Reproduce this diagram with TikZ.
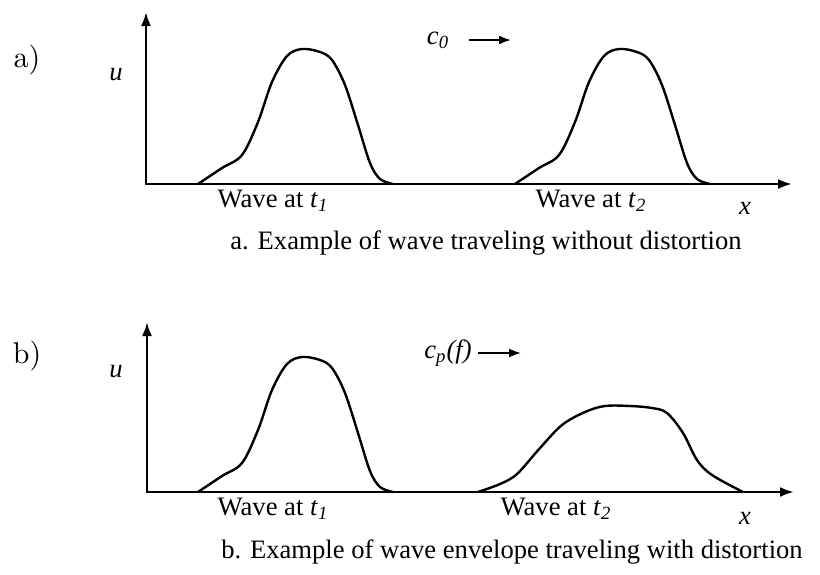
\documentclass[tikz,border=0pt]{standalone}
\usepackage{fontspec}
\setmainfont{Liberation Serif}
\newfontfamily\panelfont{lmroman10-regular.otf}
\usepackage{tikz}
\usetikzlibrary{arrows.meta, positioning}
\newcommand{\subit}[2]{\textit{#1}\textsubscript{\textit{#2}}}
\tikzset{
	axisline/.style={
			line width=1.2pt,
			{Latex[length=7pt,width=5pt]}-{Latex[length=7pt,width=5pt]}
		},
	waveline/.style={
			line width=1.2pt,
			line join=round
		},
	speedarrow/.style={
			line width=0.9pt,
			-{Latex[length=6pt,width=4.5pt]}
		},
	labeltext/.style={font=\fontsize{13.3}{16}\selectfont, inner sep=1pt},
	captiontext/.style={font=\fontsize{13.3}{16}\selectfont, inner sep=1pt},
	paneltext/.style={font=\panelfont\fontsize{15}{18}\selectfont, inner sep=1pt}
}
\begin{document}
\begin{tikzpicture}[x=0.5pt, y=-0.5pt]
	\useasboundingbox (0,0) rectangle (820,574);

	% panel a
	\node[paneltext] (pa) at (27,60) {a)};
	\node[labeltext] (ua) at (116,75) {\textit{u}};
	\coordinate (ya) at (146,12);
	\coordinate (oa) at (146,184);
	\coordinate (xa) at (792,184);
	\draw[axisline] (ya) -- (oa) -- (xa);

	\draw[waveline] plot[smooth, tension=0.55] coordinates {
		(198,184) (222,168) (242,155) (258,122) (272,82) (287,56) (302,49)
		(320,52) (332,60) (345,85) (358,125) (370,163) (380,179) (393,184)};
	\begin{scope}[shift={(317,0)}]
		\draw[waveline] plot[smooth, tension=0.55] coordinates {
			(198,184) (222,168) (242,155) (258,122) (272,82) (287,56) (302,49)
			(320,52) (332,60) (345,85) (358,125) (370,163) (380,179) (393,184)};
	\end{scope}

	\node[labeltext] (c0) at (438,40) {\subit{c}{0}};
	\coordinate (c0end) at (511,40);
	\draw[speedarrow] ([xshift=9pt]c0.east) -- (c0end);

	\node[labeltext] (wa1) at (273,201) {Wave at \subit{t}{1}};
	\node[labeltext] (wa2) at (591,201) {Wave at \subit{t}{2}};
	\node[labeltext] (xlabela) at (745,208) {\textit{x}};
	\node[captiontext] (capa) at (486,243) {a. Example of wave traveling without distortion};

	% panel b
	\node[paneltext] (pb) at (27,356) {b)};
	\node[labeltext] (ub) at (116,372) {\textit{u}};
	\coordinate (yb) at (147,322);
	\coordinate (ob) at (147,492);
	\coordinate (xb) at (794,492);
	\draw[axisline] (yb) -- (ob) -- (xb);

	\begin{scope}[shift={(0,308)}]
		\draw[waveline] plot[smooth, tension=0.55] coordinates {
			(198,184) (222,168) (242,155) (258,122) (272,82) (287,56) (302,49)
			(320,52) (332,60) (345,85) (358,125) (370,163) (380,179) (393,184)};
	\end{scope}
	\draw[waveline] plot[smooth, tension=0.55] coordinates {
		(478,492) (500,484) (517,474) (540,448) (562,425) (585,412) (605,406)
		(630,406) (652,408) (667,413) (683,433) (697,460) (712,475) (743,492)};

	\node[labeltext] (cp) at (448,353) {\subit{c}{p}\textit{(f)}};
	\coordinate (cpend) at (521,353);
	\draw[speedarrow] ([xshift=2pt]cp.east) -- (cpend);

	\node[labeltext] (wb1) at (273,509) {Wave at \subit{t}{1}};
	\node[labeltext] (wb2) at (556,509) {Wave at \subit{t}{2}};
	\node[labeltext] (xlabelb) at (745,518) {\textit{x}};
	\node[captiontext] (capb) at (512,552) {b. Example of wave envelope traveling with distortion};
\end{tikzpicture}
\end{document}
